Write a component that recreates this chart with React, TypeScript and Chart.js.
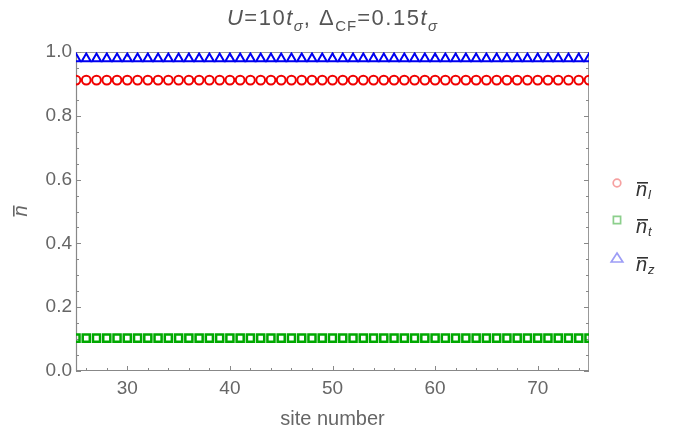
import React, { useEffect, useRef } from "react";
import { Chart, registerables } from "chart.js";
Chart.register(...registerables);

const sites = [25,26,27,28,29,30,31,32,33,34,35,36,37,38,39,40,41,42,43,44,45,46,47,48,49,50,51,52,53,54,55,56,57,58,59,60,61,62,63,64,65,66,67,68,69,70,71,72,73,74,75];
const nL = [0.912,0.912,0.912,0.912,0.912,0.912,0.912,0.912,0.912,0.912,0.912,0.912,0.912,0.912,0.912,0.912,0.912,0.912,0.912,0.912,0.912,0.912,0.912,0.912,0.912,0.912,0.912,0.912,0.912,0.912,0.912,0.912,0.912,0.912,0.912,0.912,0.912,0.912,0.912,0.912,0.912,0.912,0.912,0.912,0.912,0.912,0.912,0.912,0.912,0.912,0.912];
const nT = [0.103,0.103,0.103,0.103,0.103,0.103,0.103,0.103,0.103,0.103,0.103,0.103,0.103,0.103,0.103,0.103,0.103,0.103,0.103,0.103,0.103,0.103,0.103,0.103,0.103,0.103,0.103,0.103,0.103,0.103,0.103,0.103,0.103,0.103,0.103,0.103,0.103,0.103,0.103,0.103,0.103,0.103,0.103,0.103,0.103,0.103,0.103,0.103,0.103,0.103,0.103];
const nZ = [0.979,0.979,0.979,0.979,0.979,0.979,0.979,0.979,0.979,0.979,0.979,0.979,0.979,0.979,0.979,0.979,0.979,0.979,0.979,0.979,0.979,0.979,0.979,0.979,0.979,0.979,0.979,0.979,0.979,0.979,0.979,0.979,0.979,0.979,0.979,0.979,0.979,0.979,0.979,0.979,0.979,0.979,0.979,0.979,0.979,0.979,0.979,0.979,0.979,0.979,0.979];
const xTicks = [30, 40, 50, 60, 70];
const xMinor = [26, 28, 32, 34, 36, 38, 42, 44, 46, 48, 52, 54, 56, 58, 62, 64, 66, 68, 72, 74];
const yTicks = [0, 0.2, 0.4, 0.6, 0.8, 1.0];
const yMinor = [0.05, 0.1, 0.15, 0.25, 0.3, 0.35, 0.45, 0.5, 0.55, 0.65, 0.7, 0.75, 0.85, 0.9, 0.95];
const legendSubs = ["l", "t", "z"];

const FONT = "'Liberation Sans', Arial, sans-serif";
const TEXT = "#666";

type Seg = { t: string; it?: boolean; sub?: boolean };
const titleSegs: Seg[] = [
  { t: "U", it: true }, { t: "=10" }, { t: "t", it: true }, { t: "σ", it: true, sub: true },
  { t: ", Δ" }, { t: "CF", sub: true }, { t: "=0.15" }, { t: "t", it: true }, { t: "σ", it: true, sub: true },
];

function drawRich(ctx: any, segs: Seg[], cx: number, baseline: number, size: number, spacing: number) {
  const fontOf = (s: Seg) => `${s.it ? "italic " : ""}${s.sub ? Math.round(size * 0.66) : size}px ${FONT}`;
  const widthOf = (s: Seg) => { ctx.font = fontOf(s); return ctx.measureText(s.t).width + (s.sub ? 1 : spacing) * s.t.length; };
  let w = 0;
  for (const s of segs) w += widthOf(s);
  let x = cx - w / 2;
  ctx.textAlign = "left";
  ctx.textBaseline = "alphabetic";
  for (const s of segs) {
    ctx.font = fontOf(s);
    let xx = x;
    for (const ch of s.t) {
      ctx.fillText(ch, xx, baseline + (s.sub ? size * 0.25 : 0));
      xx += ctx.measureText(ch).width + (s.sub ? 1 : spacing);
    }
    x = xx;
  }
}

function marker(ctx: CanvasRenderingContext2D, kind: string, x: number, y: number, color: string) {
  ctx.save();
  ctx.strokeStyle = color;
  ctx.lineWidth = 1.7;
  ctx.beginPath();
  if (kind === "circle") {
    ctx.arc(x, y, 3.8, 0, Math.PI * 2);
  } else if (kind === "rect") {
    ctx.rect(x - 3.6, y - 3.6, 7.2, 7.2);
  } else {
    ctx.moveTo(x, y - 5);
    ctx.lineTo(x + 5.8, y + 4);
    ctx.lineTo(x - 5.8, y + 4);
    ctx.closePath();
  }
  ctx.stroke();
  ctx.restore();
}

const decor = {
  id: "decor",
  beforeDatasetsDraw(chart: any) {
    const { ctx, chartArea: a, scales } = chart;
    const xs = scales.x, ys = scales.y;
    ctx.save();
    ctx.lineWidth = 1;
    ctx.strokeStyle = "#999";
    ctx.beginPath();
    ctx.moveTo(a.left, a.top + 0.5); ctx.lineTo(a.right, a.top + 0.5);
    ctx.moveTo(a.right - 0.5, a.top); ctx.lineTo(a.right - 0.5, a.bottom);
    ctx.stroke();
    ctx.strokeStyle = "#888";
    ctx.lineWidth = 1.2;
    ctx.beginPath();
    ctx.moveTo(a.left + 0.5, a.top); ctx.lineTo(a.left + 0.5, a.bottom);
    ctx.moveTo(a.left, a.bottom - 0.5); ctx.lineTo(a.right, a.bottom - 0.5);
    ctx.stroke();
    ctx.lineWidth = 1;
    ctx.beginPath();
    const xt = (v: number, len: number) => {
      const p = Math.round(xs.getPixelForValue(v)) + 0.5;
      ctx.moveTo(p, a.bottom); ctx.lineTo(p, a.bottom - len);
      ctx.moveTo(p, a.top); ctx.lineTo(p, a.top + len);
    };
    const yt = (v: number, len: number) => {
      const p = Math.round(ys.getPixelForValue(v)) + 0.5;
      ctx.moveTo(a.left, p); ctx.lineTo(a.left + len, p);
      ctx.moveTo(a.right, p); ctx.lineTo(a.right - len, p);
    };
    xTicks.forEach((v) => xt(v, 5));
    xMinor.forEach((v) => xt(v, 3));
    yTicks.forEach((v) => yt(v, 5));
    yMinor.forEach((v) => yt(v, 3));
    ctx.stroke();
    ctx.restore();
  },
  afterDraw(chart: any) {
    const { ctx, chartArea: a } = chart;
    ctx.save();
    ctx.fillStyle = "#555";
    drawRich(ctx, titleSegs, (a.left + a.right) / 2, 25, 22, 1.5);

    // y axis title: rotated n-bar
    ctx.save();
    ctx.translate(27, 211);
    ctx.rotate(-Math.PI / 2);
    ctx.fillStyle = TEXT;
    ctx.font = `italic 20px ${FONT}`;
    ctx.textAlign = "center";
    ctx.textBaseline = "alphabetic";
    ctx.fillText("n", 0, 0);
    ctx.fillRect(-5.5, -14, 11, 1.6);
    ctx.restore();

    // legend
    const ds = chart.data.datasets;
    const ys = [183, 220, 258];
    ds.forEach((d: any, i: number) => {
      const y = ys[i];
      marker(ctx, d.pointStyle, 617, y, d.legendColor);
      ctx.fillStyle = "#333";
      ctx.font = `italic 20px ${FONT}`;
      ctx.textAlign = "left";
      ctx.textBaseline = "alphabetic";
      ctx.fillText("n", 636, y + 13);
      ctx.fillRect(637, y - 1, 11, 1.6);
      ctx.font = `italic 13px ${FONT}`;
      ctx.fillText(legendSubs[i], 648, y + 16);
    });
    ctx.restore();
  },
};

export default function App() {
  const ref = useRef<HTMLCanvasElement>(null);
  useEffect(() => {
    const c = ref.current!;
    const mk = (data: number[]) => sites.map((s, i) => ({ x: s, y: data[i] }));
    const chart = new Chart(c, {
      type: "scatter",
      data: {
        datasets: [
          { label: "nl", data: mk(nL), pointStyle: "circle", pointRadius: 4.4, borderWidth: 2, borderColor: "#f00000", backgroundColor: "rgba(0,0,0,0)", legendColor: "#f6a0a0" } as any,
          { label: "nt", data: mk(nT), pointStyle: "rect", pointRadius: 5, borderWidth: 2.5, borderColor: "#00a800", backgroundColor: "rgba(0,0,0,0)", legendColor: "#8ccf8c" } as any,
          { label: "nz", data: mk(nZ), pointStyle: "triangle", pointRadius: 5.2, borderWidth: 2, borderColor: "#0000f0", backgroundColor: "rgba(0,0,0,0)", legendColor: "#9d9df6" } as any,
        ],
      },
      options: {
        responsive: false,
        animation: false,
        events: [],
        layout: { padding: { top: 52, right: 89, left: 0, bottom: 0 } },
        plugins: { legend: { display: false }, tooltip: { enabled: false }, title: { display: false } },
        scales: {
          x: {
            type: "linear", min: 25, max: 75,
            grid: { display: false, drawTicks: false },
            border: { display: false },
            afterFit: (s: any) => { s.height = 61; },
            afterBuildTicks: (s: any) => { s.ticks = xTicks.map((v) => ({ value: v })); },
            ticks: { color: TEXT, font: { family: FONT, size: 19 }, padding: 6, maxRotation: 0, autoSkip: false },
            title: { display: true, text: "site number", color: TEXT, font: { family: FONT, size: 20 }, padding: { top: 0, bottom: 1 } },
          },
          y: {
            type: "linear", min: 0, max: 1,
            grid: { display: false, drawTicks: false },
            border: { display: false },
            afterFit: (s: any) => { s.width = 76; },
            afterBuildTicks: (s: any) => { s.ticks = yTicks.map((v) => ({ value: v })); },
            ticks: { color: TEXT, font: { family: FONT, size: 19 }, padding: 4, callback: (v: any) => Number(v).toFixed(1) },
          },
        },
      } as any,
      plugins: [decor],
    });
    return () => chart.destroy();
  }, []);
  return (
    <div style={{ position: "absolute", left: 0, top: 0, width: 678, height: 432, background: "#fff" }}>
      <canvas ref={ref} width={678} height={432} style={{ display: "block" }} />
    </div>
  );
}
